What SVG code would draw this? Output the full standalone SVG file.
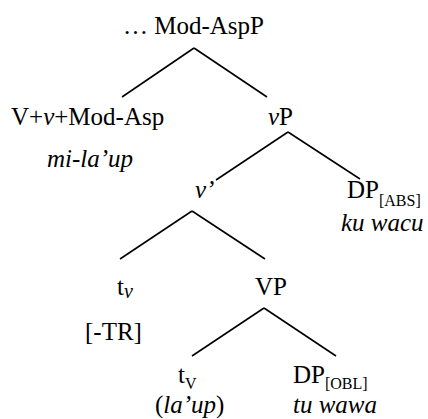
<svg xmlns="http://www.w3.org/2000/svg" width="428" height="419" viewBox="0 0 428 419">
<style>
text{font-family:"Times New Roman","Liberation Serif",Tinos,"Noto Serif","DejaVu Serif",FreeSerif,Times,serif;font-size:25px;fill:#000}
.i{font-style:italic}
.sub{font-size:16px}
.edges line{stroke:#000;stroke-width:1.6;stroke-linecap:butt}
</style>
<rect width="428" height="419" fill="#fff"/>
<g class="edges" id="connectors">
<line x1="194" y1="48" x2="122" y2="97"/>
<line x1="194" y1="48" x2="267" y2="97"/>
<line x1="288" y1="132" x2="216" y2="180"/>
<line x1="288" y1="132" x2="360" y2="179"/>
<line x1="192" y1="211" x2="120" y2="259"/>
<line x1="192" y1="211" x2="265" y2="259"/>
<line x1="264" y1="308" x2="192" y2="356"/>
<line x1="264" y1="308" x2="336" y2="356"/>
</g>
<g id="ModAspP"><text x="123" y="34">… Mod-AspP</text></g>
<g id="VvModAsp"><text x="11" y="125">V+<tspan class="i">v</tspan>+Mod-Asp</text><text class="i" x="47" y="167">mi-la’up</text></g>
<g id="vP"><text x="268" y="125"><tspan class="i">v</tspan>P</text></g>
<g id="vbar"><text class="i" x="195" y="198">v’</text></g>
<g id="DPabs"><text x="347" y="198">DP<tspan class="sub" dy="8">[ABS]</tspan></text><text class="i" x="341" y="231">ku wacu</text></g>
<g id="tv"><text x="117" y="295">t<tspan class="i" font-size="20" dy="3">v</tspan></text><text x="85" y="340">[-TR]</text></g>
<g id="VP"><text x="255" y="295">VP</text></g>
<g id="tV"><text x="178" y="383">t<tspan class="sub" dy="6">V</tspan></text><text x="155" y="413">(<tspan class="i">la’up</tspan>)</text></g>
<g id="DPobl"><text x="293" y="383">DP<tspan class="sub" dy="6">[OBL]</tspan></text><text class="i" x="293" y="413">tu wawa</text></g>
</svg>
